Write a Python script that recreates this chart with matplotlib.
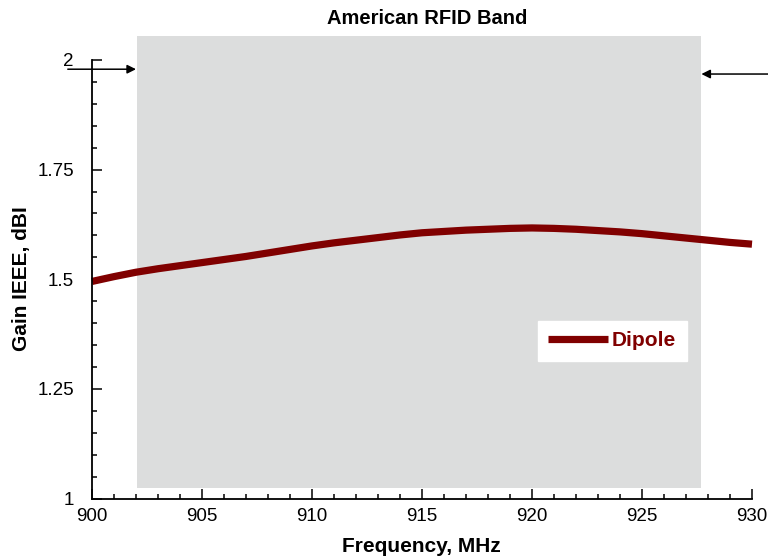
import matplotlib
matplotlib.use("Agg")
import matplotlib.pyplot as plt
from matplotlib.patches import Rectangle
from matplotlib.lines import Line2D

plt.rcParams['font.family'] = ['Liberation Sans', 'DejaVu Sans']

# Dipole gain across the 900-930 MHz sweep
freq_mhz = list(range(900, 931))
gain_dbi = [1.495, 1.506, 1.516, 1.524, 1.531, 1.538, 1.545, 1.552, 1.560, 1.568,
            1.576, 1.583, 1.589, 1.595, 1.601, 1.606, 1.609, 1.612, 1.614, 1.616,
            1.617, 1.616, 1.614, 1.611, 1.608, 1.604, 1.599, 1.594, 1.589, 1.584,
            1.580]

# Shaded band and its extent
band_x = [902.05, 927.7]
band_y = [1.023, 2.055]
arrow_left = [898.9, 902.0, 1.979]
arrow_right = [931.9, 927.7, 1.968]

x_ticks = [900, 905, 910, 915, 920, 925, 930]
y_ticks = [1, 1.25, 1.5, 1.75, 2]
y_tick_labels = ['1', '1.25', '1.5', '1.75', '2']

dark_red = '#800000'

fig = plt.figure(figsize=(7.68, 5.6), dpi=100)
ax = fig.add_axes([92 / 768, 1 - 498.5 / 560, 660 / 768, 438.5 / 560])

ax.add_patch(Rectangle((band_x[0], band_y[0]), band_x[1] - band_x[0], band_y[1] - band_y[0],
                       facecolor='#dcdddd', edgecolor='none', clip_on=False, zorder=0))

ax.plot(freq_mhz, gain_dbi, color=dark_red, lw=5.2, solid_capstyle='butt',
        clip_on=False, zorder=3)

ax.set_xlim(900, 930)
ax.set_ylim(1, 2)
ax.set_xticks(x_ticks)
ax.set_xticklabels([str(t) for t in x_ticks])
ax.set_xticks(range(900, 931), minor=True)
ax.set_yticks(y_ticks)
ax.set_yticklabels(y_tick_labels)
ax.set_yticks([1 + 0.05 * i for i in range(21)], minor=True)

for s in ['top', 'right']:
    ax.spines[s].set_visible(False)
for s in ['left', 'bottom']:
    ax.spines[s].set_linewidth(1.3)
    ax.spines[s].set_zorder(4)

ax.tick_params(which='both', direction='in', width=1.1, labelsize=13.5)
ax.tick_params(which='major', length=7.5)
ax.tick_params(which='minor', length=3.8)
ax.tick_params(axis='y', pad=13)
ax.tick_params(axis='x', pad=7)
ax.patch.set_alpha(0)

for xt, xh, yy in [arrow_left, arrow_right]:
    ax.annotate('', xy=(xh, yy), xytext=(xt, yy), annotation_clip=False,
                arrowprops=dict(arrowstyle='-|>', color='black', lw=1.1,
                                mutation_scale=13, shrinkA=0, shrinkB=0))

fig.text(427 / 768, 1 - 18 / 560, 'American RFID Band', ha='center', va='center',
         fontsize=14.5, fontweight='bold')
fig.text(421 / 768, 1 - 547 / 560, 'Frequency, MHz', ha='center', va='center',
         fontsize=15, fontweight='bold')
fig.text(22 / 768, 1 - 279 / 560, 'Gain IEEE, dBI', ha='center', va='center',
         rotation=90, fontsize=15, fontweight='bold')

handle = Line2D([], [], color=dark_red, lw=5.2, solid_capstyle='butt')
leg = ax.legend([handle], ['Dipole'], loc='upper left',
                bbox_to_anchor=(538 / 768, 1 - 321 / 560), bbox_transform=fig.transFigure,
                borderaxespad=0, frameon=True, fancybox=False, framealpha=1,
                edgecolor='white', facecolor='white', handlelength=2.85,
                handletextpad=0.2, borderpad=0.5,
                prop={'weight': 'bold', 'size': 15})
for t in leg.get_texts():
    t.set_color(dark_red)

fig.savefig('out.png', dpi=100)
